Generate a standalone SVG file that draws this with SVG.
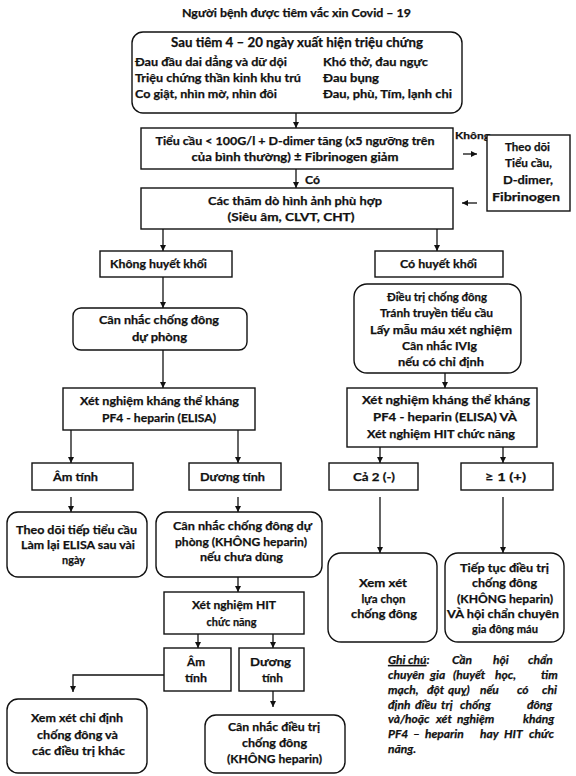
<svg xmlns="http://www.w3.org/2000/svg" width="576" height="776" viewBox="0 0 576 776">
<style>
.b{fill:#fff;stroke:#111;stroke-width:1.4}
.t{font-family:Lato,"Liberation Sans",sans-serif;font-weight:bold;font-size:12px;fill:#111;stroke:#111;stroke-width:0.25}
.c{text-anchor:middle}
.n{font-family:Lato,"Liberation Sans",sans-serif;font-weight:bold;font-style:italic;font-size:12px;fill:#111;stroke:#111;stroke-width:0.25}
.l{fill:none;stroke:#111;stroke-width:1.3}
</style>
<defs>
<marker id="a" viewBox="0 0 6 6" refX="6" refY="3" markerWidth="6" markerHeight="6" markerUnits="userSpaceOnUse" orient="auto">
<path d="M0,0 L6,3 L0,6 z" fill="#111"/>
</marker>
</defs>
<rect width="576" height="776" fill="#fff"/>
<text id="title" class="t c" x="296.5" y="17" textLength="229" lengthAdjust="spacingAndGlyphs">Người bệnh được tiêm vắc xin Covid – 19</text>

<g id="connectors">
<line class="l" x1="296" y1="113" x2="296" y2="128" marker-end="url(#a)"/>
<line class="l" x1="296" y1="169" x2="296" y2="188" marker-end="url(#a)"/>
<line class="l" x1="463" y1="154" x2="477" y2="154" marker-end="url(#a)"/>
<line class="l" x1="477" y1="203" x2="462" y2="203" marker-end="url(#a)"/>
<line class="l" x1="163" y1="229" x2="163" y2="251" marker-end="url(#a)"/>
<line class="l" x1="437" y1="229" x2="437" y2="251" marker-end="url(#a)"/>
<line class="l" x1="163" y1="277" x2="163" y2="308" marker-end="url(#a)"/>
<line class="l" x1="163" y1="350" x2="163" y2="388" marker-end="url(#a)"/>
<line class="l" x1="445" y1="373" x2="445" y2="388" marker-end="url(#a)"/>
<line class="l" x1="71" y1="430" x2="71" y2="463" marker-end="url(#a)"/>
<line class="l" x1="238" y1="430" x2="238" y2="463" marker-end="url(#a)"/>
<line class="l" x1="380" y1="447" x2="380" y2="463" marker-end="url(#a)"/>
<line class="l" x1="503" y1="447" x2="503" y2="463" marker-end="url(#a)"/>
<line class="l" x1="71" y1="497" x2="71" y2="512" marker-end="url(#a)"/>
<line class="l" x1="238" y1="497" x2="238" y2="512" marker-end="url(#a)"/>
<line class="l" x1="380" y1="497" x2="380" y2="553" marker-end="url(#a)"/>
<line class="l" x1="503" y1="497" x2="503" y2="553" marker-end="url(#a)"/>
<line class="l" x1="238" y1="577" x2="238" y2="592" marker-end="url(#a)"/>
<line class="l" x1="198" y1="634" x2="198" y2="648" marker-end="url(#a)"/>
<line class="l" x1="273" y1="634" x2="273" y2="648" marker-end="url(#a)"/>
<polyline class="l" points="164,675 73,675 73,692" marker-end="url(#a)"/>
<line class="l" x1="273" y1="691" x2="273" y2="707" marker-end="url(#a)"/>
<text class="t" x="455" y="139" style="font-size:10px" textLength="35" lengthAdjust="spacingAndGlyphs">Không</text>
<text class="t" x="305" y="184" textLength="15" lengthAdjust="spacingAndGlyphs">Có</text>
</g>

<g id="n1">
<rect class="b" x="132" y="32" width="330" height="81" rx="11"/>
<text class="t c" x="297" y="47" style="font-size:13px" textLength="252" lengthAdjust="spacingAndGlyphs">Sau tiêm 4 – 20 ngày xuất hiện triệu chứng</text>
<text class="t" x="135" y="66" textLength="152" lengthAdjust="spacingAndGlyphs">Đau đầu dai dẳng và dữ dội</text>
<text class="t" x="135" y="82" textLength="166" lengthAdjust="spacingAndGlyphs">Triệu chứng thần kinh khu trú</text>
<text class="t" x="135" y="98" textLength="142" lengthAdjust="spacingAndGlyphs">Co giật,  nhìn mờ, nhìn đôi</text>
<text class="t" x="323" y="66" textLength="105" lengthAdjust="spacingAndGlyphs">Khó thở, đau ngực</text>
<text class="t" x="323" y="82" textLength="56" lengthAdjust="spacingAndGlyphs">Đau bụng</text>
<text class="t" x="323" y="98" textLength="129" lengthAdjust="spacingAndGlyphs">Đau, phù, Tím,  lạnh chi</text>
</g>
<g id="n2">
<rect class="b" x="141" y="128" width="312" height="41"/>
<text class="t c" x="295" y="145" textLength="279" lengthAdjust="spacingAndGlyphs">Tiểu cầu &lt; 100G/l + D-dimer tăng (x5 ngưỡng trên</text>
<text class="t c" x="295" y="161" textLength="207" lengthAdjust="spacingAndGlyphs">của bình thường)  ± Fibrinogen giảm</text>
</g>
<g id="n3">
<rect class="b" x="487" y="135" width="83" height="76"/>
<text class="t c" x="527.5" y="151" textLength="45" lengthAdjust="spacingAndGlyphs">Theo dõi</text>
<text class="t c" x="528.5" y="167" textLength="47" lengthAdjust="spacingAndGlyphs">Tiểu cầu,</text>
<text class="t c" x="528" y="184" textLength="50" lengthAdjust="spacingAndGlyphs">D-dimer,</text>
<text class="t c" x="526" y="201" textLength="68" lengthAdjust="spacingAndGlyphs">Fibrinogen</text>
</g>
<g id="n4">
<rect class="b" x="141" y="188" width="312" height="41"/>
<text class="t c" x="295" y="205" textLength="174" lengthAdjust="spacingAndGlyphs">Các thăm  dò hình ảnh  phù hợp</text>
<text class="t c" x="291" y="221" textLength="127" lengthAdjust="spacingAndGlyphs">(Siêu âm, CLVT, CHT)</text>
</g>
<g id="n5">
<rect class="b" x="100" y="251" width="132" height="26"/>
<text class="t c" x="158.5" y="268" textLength="97" lengthAdjust="spacingAndGlyphs">Không huyết khối</text>
</g>
<g id="n6">
<rect class="b" x="375" y="251" width="128" height="26"/>
<text class="t c" x="438.5" y="268" textLength="77" lengthAdjust="spacingAndGlyphs">Có huyết khối</text>
</g>
<g id="n7">
<rect class="b" x="73" y="308" width="174" height="42" rx="8"/>
<text class="t c" x="159" y="324" textLength="120" lengthAdjust="spacingAndGlyphs">Cân nhắc chống đông</text>
<text class="t c" x="159.5" y="341" textLength="55" lengthAdjust="spacingAndGlyphs">dự phòng</text>
</g>
<g id="n8">
<rect class="b" x="354" y="284" width="167" height="89" rx="13"/>
<text class="t c" x="437" y="301" textLength="100" lengthAdjust="spacingAndGlyphs">Điều trị chống đông</text>
<text class="t c" x="436.5" y="317" textLength="113" lengthAdjust="spacingAndGlyphs">Tránh  truyền tiểu cầu</text>
<text class="t c" x="441" y="334" textLength="142" lengthAdjust="spacingAndGlyphs">Lấy mẫu máu  xét nghiệm</text>
<text class="t c" x="439.5" y="350" textLength="75" lengthAdjust="spacingAndGlyphs">Cân nhắc IVIg</text>
<text class="t c" x="441" y="366" textLength="86" lengthAdjust="spacingAndGlyphs">nếu có chỉ định</text>
</g>
<g id="n9">
<rect class="b" x="63" y="388" width="192" height="42"/>
<text class="t c" x="159.5" y="405" textLength="159" lengthAdjust="spacingAndGlyphs">Xét nghiệm kháng thể kháng</text>
<text class="t c" x="159" y="422" textLength="114" lengthAdjust="spacingAndGlyphs">PF4 - heparin (ELISA)</text>
</g>
<g id="n10">
<rect class="b" x="347" y="388" width="190" height="59"/>
<text class="t c" x="446" y="404" textLength="168" lengthAdjust="spacingAndGlyphs">Xét nghiệm kháng thể kháng</text>
<text class="t c" x="445" y="421" textLength="144" lengthAdjust="spacingAndGlyphs">PF4 - heparin (ELISA) VÀ</text>
<text class="t c" x="441" y="438" textLength="148" lengthAdjust="spacingAndGlyphs">Xét nghiệm HIT chức năng</text>
</g>
<g id="n11">
<rect class="b" x="32" y="463" width="101" height="27"/>
<text class="t c" x="75.5" y="481" textLength="45" lengthAdjust="spacingAndGlyphs">Âm tính</text>
</g>
<g id="n12">
<rect class="b" x="189" y="463" width="92" height="27"/>
<text class="t c" x="232.5" y="481" textLength="65" lengthAdjust="spacingAndGlyphs">Dương tính</text>
</g>
<g id="n13">
<rect class="b" x="329" y="463" width="89" height="27"/>
<text class="t c" x="374" y="481" textLength="42" lengthAdjust="spacingAndGlyphs">Cả 2 (-)</text>
</g>
<g id="n14">
<rect class="b" x="461" y="463" width="92" height="27"/>
<text class="t c" x="505.5" y="481" textLength="41" lengthAdjust="spacingAndGlyphs">≥ 1 (+)</text>
</g>
<g id="n15">
<rect class="b" x="7" y="512" width="140" height="65" rx="11"/>
<text class="t c" x="76.5" y="534" textLength="121" lengthAdjust="spacingAndGlyphs">Theo dõi tiếp tiểu cầu</text>
<text class="t c" x="78" y="549" textLength="114" lengthAdjust="spacingAndGlyphs">Làm lại ELISA sau vài</text>
<text class="t c" x="73.5" y="564" textLength="23" lengthAdjust="spacingAndGlyphs">ngày</text>
</g>
<g id="n16">
<rect class="b" x="156" y="512" width="166" height="65" rx="11"/>
<text class="t c" x="242.5" y="530" textLength="139" lengthAdjust="spacingAndGlyphs">Cân nhắc chống đông dự</text>
<text class="t c" x="241" y="546" textLength="132" lengthAdjust="spacingAndGlyphs">phòng (KHÔNG heparin)</text>
<text class="t c" x="241.5" y="561" textLength="83" lengthAdjust="spacingAndGlyphs">nếu chưa dùng</text>
</g>
<g id="n17">
<rect class="b" x="164" y="592" width="140" height="42"/>
<text class="t c" x="234" y="609" textLength="84" lengthAdjust="spacingAndGlyphs">Xét nghiệm HIT</text>
<text class="t c" x="231.5" y="626" textLength="50" lengthAdjust="spacingAndGlyphs">chức năng</text>
</g>
<g id="n18">
<rect class="b" x="164" y="648" width="67" height="43"/>
<text class="t c" x="196" y="666" textLength="18" lengthAdjust="spacingAndGlyphs">Âm</text>
<text class="t c" x="196" y="682" textLength="22" lengthAdjust="spacingAndGlyphs">tính</text>
</g>
<g id="n19">
<rect class="b" x="239" y="648" width="65" height="43"/>
<text class="t c" x="270.5" y="666" textLength="41" lengthAdjust="spacingAndGlyphs">Dương</text>
<text class="t c" x="272.5" y="682" textLength="21" lengthAdjust="spacingAndGlyphs">tính</text>
</g>
<g id="n20">
<rect class="b" x="7" y="699" width="140" height="74" rx="11"/>
<text class="t c" x="77" y="722" textLength="92" lengthAdjust="spacingAndGlyphs">Xem xét chỉ định</text>
<text class="t c" x="77.5" y="739" textLength="81" lengthAdjust="spacingAndGlyphs">chống đông và</text>
<text class="t c" x="78.5" y="755" textLength="93" lengthAdjust="spacingAndGlyphs">các điều trị khác</text>
</g>
<g id="n21">
<rect class="b" x="205" y="715" width="140" height="58" rx="11"/>
<text class="t c" x="274" y="731" textLength="92" lengthAdjust="spacingAndGlyphs">Cân nhắc điều trị</text>
<text class="t c" x="274.5" y="747" textLength="65" lengthAdjust="spacingAndGlyphs">chống đông</text>
<text class="t c" x="274.5" y="763" textLength="95" lengthAdjust="spacingAndGlyphs">(KHÔNG heparin)</text>
</g>
<g id="n22">
<rect class="b" x="328" y="553" width="109" height="89" rx="13"/>
<text class="t c" x="383" y="587" textLength="48" lengthAdjust="spacingAndGlyphs">Xem xét</text>
<text class="t c" x="383.5" y="603" textLength="44" lengthAdjust="spacingAndGlyphs">lựa chọn</text>
<text class="t c" x="384" y="618" textLength="66" lengthAdjust="spacingAndGlyphs">chống đông</text>
</g>
<g id="n23">
<rect class="b" x="445" y="553" width="119" height="89" rx="13"/>
<text class="t c" x="504.5" y="572" textLength="89" lengthAdjust="spacingAndGlyphs">Tiếp tục điều trị</text>
<text class="t c" x="504.5" y="587" textLength="65" lengthAdjust="spacingAndGlyphs">chống đông</text>
<text class="t c" x="505" y="603" textLength="96" lengthAdjust="spacingAndGlyphs">(KHÔNG heparin)</text>
<text class="t c" x="503" y="618" textLength="112" lengthAdjust="spacingAndGlyphs">VÀ hội chẩn chuyên</text>
<text class="t c" x="505" y="633" textLength="66" lengthAdjust="spacingAndGlyphs">gia đông máu</text>
</g>
<g id="note">
<text class="n" y="664"><tspan x="388" text-decoration="underline">Ghi  chú</tspan><tspan>:</tspan><tspan x="452">Cần</tspan><tspan x="493">hội</tspan><tspan x="528">chẩn</tspan></text>
<text class="n" y="679"><tspan x="388">chuyên</tspan><tspan x="430">gia</tspan><tspan x="453">(huyết</tspan><tspan x="495">học,</tspan><tspan x="541">tim</tspan></text>
<text class="n" y="694"><tspan x="388">mạch,</tspan><tspan x="427">đột</tspan><tspan x="448">quỵ)</tspan><tspan x="480">nếu</tspan><tspan x="517">có</tspan><tspan x="542">chỉ</tspan></text>
<text class="n" y="709"><tspan x="388">định</tspan><tspan x="415">điều</tspan><tspan x="441">trị</tspan><tspan x="460">chống</tspan><tspan x="527">đông</tspan></text>
<text class="n" y="723"><tspan x="388">và/hoặc</tspan><tspan x="436">xét</tspan><tspan x="457">nghiệm</tspan><tspan x="523">kháng</tspan></text>
<text class="n" y="738"><tspan x="388">PF4</tspan><tspan x="413">–</tspan><tspan x="425">heparin</tspan><tspan x="480">hay</tspan><tspan x="504">HIT</tspan><tspan x="529">chức</tspan></text>
<text class="n" y="753"><tspan x="388">năng.</tspan></text>
</g>
</svg>
